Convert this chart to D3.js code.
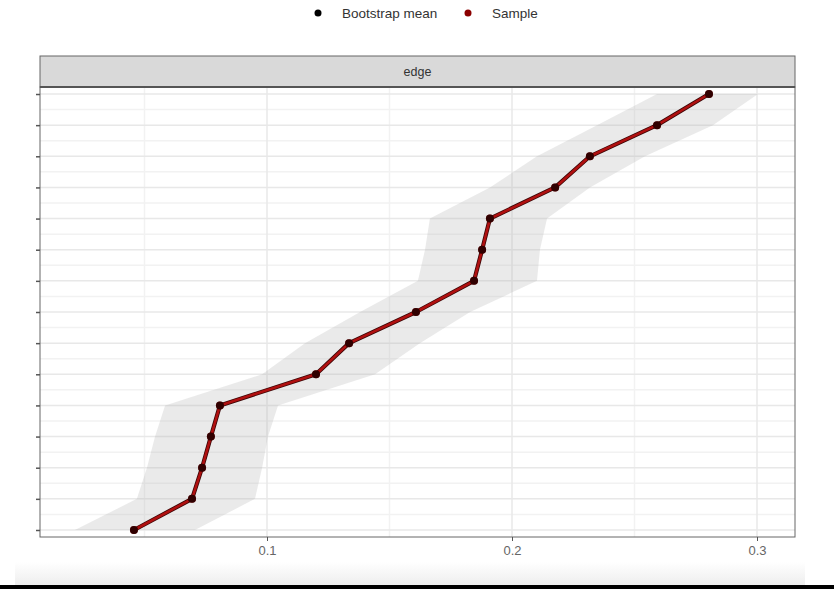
<!DOCTYPE html>
<html>
<head>
<meta charset="utf-8">
<script src="https://cdn.jsdelivr.net/npm/d3@7"></script>
<style>
  body { margin: 0; background: #fff; }
  text { font-family: "Liberation Sans", Arial, sans-serif; }
</style>
</head>
<body>
<div id="chart"></div>
<script>
// datos: rango (1 = abajo) y valores
const ranks = d3.range(1, 16);
const sample = [0.0457, 0.0694, 0.0735, 0.0771, 0.0808, 0.120, 0.1335, 0.1608,
                0.1845, 0.1878, 0.191, 0.2176, 0.2318, 0.2592, 0.2804];
const bootMean = [0.0457, 0.0694, 0.0735, 0.0771, 0.0808, 0.120, 0.1335, 0.1608,
                  0.1845, 0.1878, 0.191, 0.2176, 0.2318, 0.2592, 0.2804];
const lower = [0.0216, 0.0469, 0.0510, 0.0543, 0.0584, 0.0980, 0.1155, 0.1380,
               0.1616, 0.1645, 0.1665, 0.1910, 0.2102, 0.2347, 0.2592];
const upper = [0.0706, 0.0951, 0.0980, 0.1004, 0.1045, 0.1441, 0.1624, 0.1829,
               0.2102, 0.2114, 0.2143, 0.2318, 0.2543, 0.2820, 0.3004];
const xTicks = [0.1, 0.2, 0.3];
const xMinor = [0.05, 0.15, 0.25];
const panelTitle = "edge";
const legendItems = [{label: "Bootstrap mean", color: "#000000"}, {label: "Sample", color: "#8b0000"}];

const W = 834, H = 589;
const panel = {left: 40, right: 795, top: 87, bottom: 537};

const svg = d3.select("#chart").append("svg")
  .attr("width", W).attr("height", H);

// fondo inferior (captura)
const grad = svg.append("defs").append("linearGradient")
  .attr("id", "bot").attr("x1", 0).attr("x2", 0).attr("y1", 0).attr("y2", 1);
grad.append("stop").attr("offset", 0).attr("stop-color", "#ffffff");
grad.append("stop").attr("offset", 1).attr("stop-color", "#eeeeee");
svg.append("rect").attr("x", 15).attr("y", 562).attr("width", 790).attr("height", 23)
  .attr("fill", "url(#bot)");
svg.append("rect").attr("x", 0).attr("y", 585).attr("width", W).attr("height", 4)
  .attr("fill", "#000");

// escalas
const x = d3.scaleLinear()
  .domain([(panel.left - 22) / 2450, (panel.right - 22) / 2450])
  .range([panel.left, panel.right]);
const y = d3.scaleLinear()
  .domain([0.775, 15.225])
  .range([panel.bottom, panel.top]);

// rejilla
const grid = svg.append("g");
const yMinor = d3.range(1.5, 15, 1);
grid.selectAll(".hmin").data(yMinor).join("line")
  .attr("x1", panel.left).attr("x2", panel.right)
  .attr("y1", d => y(d)).attr("y2", d => y(d))
  .attr("stroke", "#f2f2f2").attr("stroke-width", 1.5);
grid.selectAll(".vmin").data(xMinor).join("line")
  .attr("x1", d => x(d)).attr("x2", d => x(d))
  .attr("y1", panel.top).attr("y2", panel.bottom)
  .attr("stroke", "#f2f2f2").attr("stroke-width", 1.5);
grid.selectAll(".hmaj").data(ranks).join("line")
  .attr("x1", panel.left).attr("x2", panel.right)
  .attr("y1", d => y(d)).attr("y2", d => y(d))
  .attr("stroke", "#e8e8e8").attr("stroke-width", 1.5);
grid.selectAll(".vmaj").data(xTicks).join("line")
  .attr("x1", d => x(d)).attr("x2", d => x(d))
  .attr("y1", panel.top).attr("y2", panel.bottom)
  .attr("stroke", "#e8e8e8").attr("stroke-width", 1.5);

// banda
const rows = ranks.map((r, i) => ({r, lo: lower[i], hi: upper[i], s: sample[i], m: bootMean[i]}));
const area = d3.area()
  .y(d => y(d.r))
  .x0(d => x(d.lo))
  .x1(d => x(d.hi));
svg.append("path").datum(rows)
  .attr("d", area)
  .attr("fill", "#b3b3b3")
  .attr("fill-opacity", 0.28);

// líneas
const lineM = d3.line().x(d => x(d.m)).y(d => y(d.r));
const lineS = d3.line().x(d => x(d.s)).y(d => y(d.r));
svg.append("path").datum(rows).attr("d", lineM)
  .attr("fill", "none").attr("stroke", "#3a0505").attr("stroke-width", 4.2)
  .attr("stroke-linejoin", "round");
svg.append("path").datum(rows).attr("d", lineS)
  .attr("fill", "none").attr("stroke", "#b01010").attr("stroke-width", 2.6)
  .attr("stroke-linejoin", "round");

// puntos
svg.selectAll(".ps").data(rows).join("circle")
  .attr("cx", d => x(d.s)).attr("cy", d => y(d.r)).attr("r", 4)
  .attr("fill", "#8b0000");
svg.selectAll(".pm").data(rows).join("circle")
  .attr("cx", d => x(d.m)).attr("cy", d => y(d.r)).attr("r", 4)
  .attr("fill", "#000").attr("fill-opacity", 0.65);

// borde del panel
svg.append("rect")
  .attr("x", panel.left).attr("y", panel.top)
  .attr("width", panel.right - panel.left).attr("height", panel.bottom - panel.top)
  .attr("fill", "none").attr("stroke", "#666").attr("stroke-width", 1);

// franja del título
svg.append("rect")
  .attr("x", panel.left).attr("y", 56)
  .attr("width", panel.right - panel.left).attr("height", 31)
  .attr("fill", "#d9d9d9").attr("stroke", "#666").attr("stroke-width", 1);
svg.append("line")
  .attr("x1", panel.left).attr("x2", panel.right).attr("y1", 87).attr("y2", 87)
  .attr("stroke", "#555").attr("stroke-width", 2);
svg.append("text")
  .attr("x", (panel.left + panel.right) / 2).attr("y", 76)
  .attr("text-anchor", "middle").attr("font-size", 12.5).attr("fill", "#333")
  .text(panelTitle);

// ejes
const xAxis = svg.append("g")
  .attr("transform", `translate(0,${panel.bottom})`)
  .call(d3.axisBottom(x).tickValues(xTicks).tickSize(4).tickPadding(5).tickFormat(d3.format(".1f")));
xAxis.select(".domain").remove();
xAxis.selectAll("line").attr("stroke", "#555");
xAxis.selectAll("text").attr("font-size", 13).attr("fill", "#666")
  .attr("font-family", "Liberation Sans, Arial, sans-serif");

const yAxis = svg.append("g")
  .attr("transform", `translate(${panel.left},0)`)
  .call(d3.axisLeft(y).tickValues(ranks).tickSize(4).tickFormat(""));
yAxis.select(".domain").remove();
yAxis.selectAll("line").attr("stroke", "#555").attr("stroke-width", 1.5);

// leyenda
const leg = svg.append("g");
const legX = [318, 468];
legendItems.forEach((it, i) => {
  leg.append("circle").attr("cx", legX[i]).attr("cy", 13).attr("r", 3.5).attr("fill", it.color);
  leg.append("text").attr("x", legX[i] + 24).attr("y", 18)
    .attr("font-size", 13.5).attr("fill", "#333").text(it.label);
});
</script>
</body>
</html>
